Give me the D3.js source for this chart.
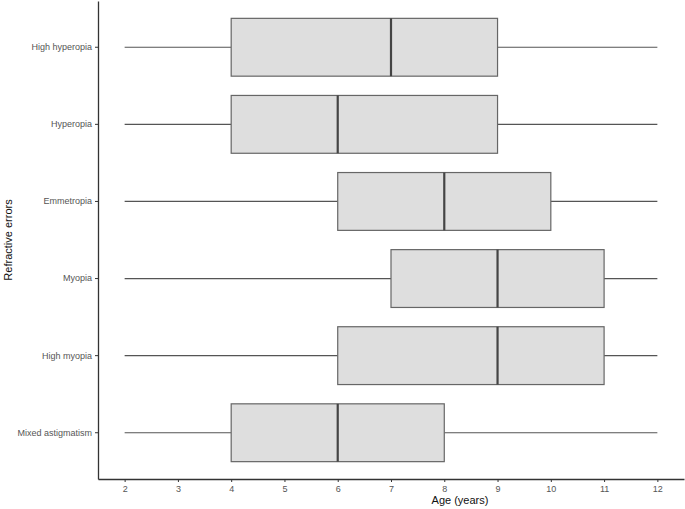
<!DOCTYPE html>
<html lang="en">
<head>
  <meta charset="UTF-8">
  <title>Refractive errors by age</title>
  <style>
    body { margin: 0; background: #fff; }
    svg { display: block; font-family: "Liberation Sans", Arial, sans-serif; }
    .tick text { fill: #555; font-size: 9px; }
  </style>
</head>
<body>
  <div id="chart"></div>
  <script src="https://cdn.jsdelivr.net/npm/d3@7"></script>
  <script>
    // categories top to bottom
    var groups = ['High hyperopia', 'Hyperopia', 'Emmetropia', 'Myopia', 'High myopia', 'Mixed astigmatism'];
    // five number summaries (years)
    var mins    = [2, 2, 2, 2, 2, 2];
    var q1s     = [4, 4, 6, 7, 6, 4];
    var medians = [7, 6, 8, 9, 9, 6];
    var q3s     = [9, 9, 10, 11, 11, 8];
    var maxs    = [12, 12, 12, 12, 12, 12];
    var xTicks  = [2, 3, 4, 5, 6, 7, 8, 9, 10, 11, 12];

    var W = 685, H = 509;
    var m = {top: 1, right: 1, bottom: 30, left: 98};

    var svg = d3.select('#chart').append('svg')
      .attr('width', W).attr('height', H);

    var x = d3.scaleLinear().domain([1.5, 12.5]).range([m.left, W - m.right]);
    var y = d3.scaleBand().domain(groups)
      .range([m.top, H - m.bottom])
      .paddingOuter(0.1).paddingInner(0);

    var boxH = y.bandwidth() * 0.75;

    var data = groups.map(function(g, i) {
      return {g: g, min: mins[i], q1: q1s[i], med: medians[i], q3: q3s[i], max: maxs[i]};
    });

    var row = svg.append('g').selectAll('g.box')
      .data(data).enter().append('g')
      .attr('class', 'box')
      .attr('transform', function(d) { return 'translate(0,' + (y(d.g) + y.bandwidth() / 2) + ')'; });

    // whiskers
    row.append('line')
      .attr('x1', function(d) { return x(d.min); })
      .attr('x2', function(d) { return x(d.q1); })
      .attr('stroke', '#555').attr('stroke-width', 1.2);
    row.append('line')
      .attr('x1', function(d) { return x(d.q3); })
      .attr('x2', function(d) { return x(d.max); })
      .attr('stroke', '#555').attr('stroke-width', 1.2);

    // boxes
    row.append('rect')
      .attr('x', function(d) { return x(d.q1); })
      .attr('y', -boxH / 2)
      .attr('width', function(d) { return x(d.q3) - x(d.q1); })
      .attr('height', boxH)
      .attr('fill', '#dedede')
      .attr('stroke', '#666').attr('stroke-width', 1.2);

    // medians
    row.append('line')
      .attr('x1', function(d) { return x(d.med); })
      .attr('x2', function(d) { return x(d.med); })
      .attr('y1', -boxH / 2).attr('y2', boxH / 2)
      .attr('stroke', '#444').attr('stroke-width', 2.2);

    // axes
    var xAxis = svg.append('g')
      .attr('transform', 'translate(0,' + (H - m.bottom) + ')')
      .call(d3.axisBottom(x).tickValues(xTicks).tickSize(3).tickPadding(4).tickSizeOuter(0));
    xAxis.select('.domain').attr('stroke', '#333').attr('stroke-width', 1.3);
    xAxis.selectAll('.tick line').attr('stroke', '#333');

    var yAxis = svg.append('g')
      .attr('transform', 'translate(' + m.left + ',0)')
      .call(d3.axisLeft(y).tickSize(3).tickPadding(3).tickSizeOuter(0));
    yAxis.select('.domain').attr('stroke', '#333').attr('stroke-width', 1.3);
    yAxis.selectAll('.tick line').attr('stroke', '#333');

    // titles
    svg.append('text')
      .attr('x', 460).attr('y', H - 5)
      .attr('text-anchor', 'middle')
      .attr('font-size', 11).attr('fill', '#111')
      .text('Age (years)');

    svg.append('text')
      .attr('transform', 'translate(12,240) rotate(-90)')
      .attr('text-anchor', 'middle')
      .attr('font-size', 11).attr('fill', '#111')
      .text('Refractive errors');
  </script>
</body>
</html>
